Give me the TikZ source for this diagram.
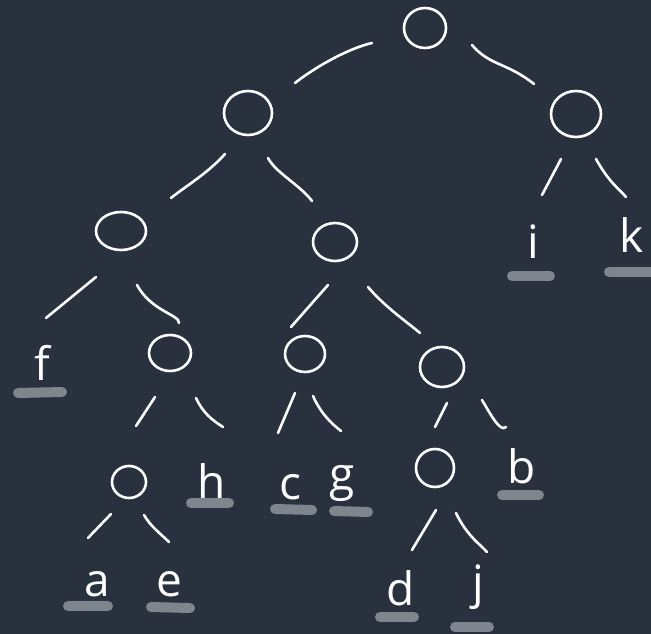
\documentclass[tikz,border=0pt]{standalone}
\usepackage{fontspec}
\setmainfont{Open Sans}
\usetikzlibrary{calc,shapes.geometric}
\definecolor{bgcol}{HTML}{29313E}
\definecolor{ulcol}{HTML}{7E858D}
\begin{document}
\begin{tikzpicture}[x=1pt,y=-1pt,
  hole/.style={draw=white, line width=2.6pt, ellipse, inner sep=0pt},
  lbl/.style={text=white, font=\fontsize{46}{46}\selectfont, text height=0pt, text depth=0pt, inner sep=0pt},
  link/.style={draw=white, line width=2.6pt, line cap=round},
  uline/.style={draw=ulcol, line width=10pt, line cap=round}]
\fill[bgcol] (0,0) rectangle (651,634);
\useasboundingbox (0,0) rectangle (651,634);
% inner nodes
\node[hole, minimum width=42pt, minimum height=40pt] (root) at (425,28) {};
\node[hole, minimum width=48pt, minimum height=44pt] (n1) at (248,113) {};
\node[hole, minimum width=50pt, minimum height=46pt] (n2) at (576,114) {};
\node[hole, minimum width=50pt, minimum height=38pt] (n3) at (121,231) {};
\node[hole, minimum width=44pt, minimum height=38pt] (n4) at (335,242) {};
\node[hole, minimum width=42pt, minimum height=36pt] (n5) at (170,353) {};
\node[hole, minimum width=40pt, minimum height=36pt] (n6) at (305,354) {};
\node[hole, minimum width=44pt, minimum height=40pt] (n7) at (442,367) {};
\node[hole, minimum width=34pt, minimum height=32pt] (n8) at (129,482) {};
\node[hole, minimum width=38pt, minimum height=38pt] (n9) at (435,468) {};
% leaves (node centre = baseline)
\node[lbl] (i) at (533,258) {i};
\node[lbl] (k) at (632,252) {k};
\node[lbl] (f) at (42,380) {f};
\node[lbl] (h) at (212,498) {h};
\node[lbl] (c) at (290,499) {c};
\node[lbl] (g) at (342,490) {g};
\node[lbl] (b) at (522,483) {b};
\node[lbl] (a) at (97,596) {a};
\node[lbl] (e) at (169,596) {e};
\node[lbl] (d) at (401,605) {d};
\node[lbl] (j) at (478,598) {j};
% underlines
\draw[uline] ($(i)+(-21,18)$) -- ($(i)+(17,18)$);
\draw[uline] ($(k)+(-23,20)$) -- ($(k)+(24,20)$);
\draw[uline] ($(f)+(-24,13)$) -- ($(f)+(20,12)$);
\draw[uline] ($(h)+(-21,5)$) -- ($(h)+(17,5)$);
\draw[uline] ($(c)+(-15,10)$) -- ($(c)+(22,11)$);
\draw[uline] ($(g)+(-8,21)$) -- ($(g)+(26,22)$);
\draw[uline] ($(b)+(-20,12)$) -- ($(b)+(17,12)$);
\draw[uline] ($(a)+(-29,10)$) -- ($(a)+(11,10)$);
\draw[uline] ($(e)+(-18,11)$) -- ($(e)+(21,12)$);
\draw[uline] ($(d)+(-21,12)$) -- ($(d)+(13,12)$);
\draw[uline] ($(j)+(-23,29)$) -- ($(j)+(11,29)$);
% connectors
\draw[link] ($(root)+(-53,15)$) .. controls ($(root)+(-75,20)$) and ($(n1)+(70,-48)$) .. ($(n1)+(47,-30)$);
\draw[link] ($(root)+(47,17)$) .. controls ($(root)+(65,38)$) and ($(n2)+(-70,-52)$) .. ($(n2)+(-42,-30)$);
\draw[link] ($(n1)+(-23,41)$) .. controls ($(n1)+(-40,60)$) and ($(n3)+(65,-45)$) .. ($(n3)+(50,-33)$);
\draw[link] ($(n1)+(20,45)$) .. controls ($(n1)+(28,60)$) and ($(n4)+(-35,-57)$) .. ($(n4)+(-23,-41)$);
\draw[link] ($(n2)+(-15,45)$) -- ($(i)+(9,-63)$);
\draw[link] ($(n2)+(20,45)$) .. controls ($(n2)+(33,68)$) and ($(k)+(-15,-65)$) .. ($(k)+(-6,-55)$);
\draw[link] ($(n3)+(-25,46)$) -- ($(f)+(4,-62)$);
\draw[link] ($(n3)+(16,54)$) .. controls ($(n3)+(30,80)$) and ($(n5)+(10,-38)$) .. ($(n5)+(9,-30)$);
\draw[link] ($(n4)+(-7,43)$) -- ($(n6)+(-14,-27)$);
\draw[link] ($(n4)+(33,45)$) .. controls ($(n4)+(50,65)$) and ($(n7)+(-35,-45)$) .. ($(n7)+(-22,-34)$);
\draw[link] ($(n5)+(-15,44)$) -- ($(n8)+(7,-56)$);
\draw[link] ($(n5)+(26,45)$) .. controls ($(n5)+(33,60)$) and ($(h)+(0,-78)$) .. ($(h)+(11,-71)$);
\draw[link] ($(n6)+(-10,39)$) -- ($(c)+(-12,-66)$);
\draw[link] ($(n6)+(8,42)$) .. controls ($(n6)+(16,60)$) and ($(g)+(-10,-66)$) .. ($(g)+(-1,-59)$);
\draw[link] ($(n7)+(5,36)$) -- ($(n9)+(0,-41)$);
\draw[link] ($(n7)+(40,33)$) .. controls ($(n7)+(48,46)$) and ($(b)+(-22,-50)$) .. ($(b)+(-16,-56)$);
\draw[link] ($(n8)+(-18,32)$) -- ($(a)+(-9,-58)$);
\draw[link] ($(n8)+(15,33)$) .. controls ($(n8)+(22,45)$) and ($(e)+(-8,-62)$) .. ($(e)+(0,-54)$);
\draw[link] ($(n9)+(1,42)$) -- ($(d)+(11,-55)$);
\draw[link] ($(n9)+(21,45)$) .. controls ($(n9)+(32,68)$) and ($(j)+(2,-54)$) .. ($(j)+(9,-46)$);
\end{tikzpicture}
\end{document}
